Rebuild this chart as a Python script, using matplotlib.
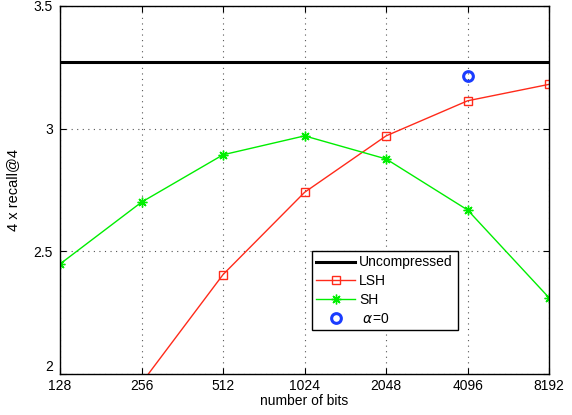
import numpy as np
import matplotlib
matplotlib.use("Agg")
import matplotlib.pyplot as plt

plt.rcParams['font.family'] = ['Liberation Sans', 'DejaVu Sans']

# data
bits = [128, 256, 512, 1024, 2048, 4096, 8192]
uncompressed = 3.272
lsh_bits = [256, 512, 1024, 2048, 4096, 8192]
lsh = [1.963, 2.405, 2.74, 2.97, 3.113, 3.18]
sh = [2.448, 2.70, 2.893, 2.97, 2.876, 2.668, 2.31]
alpha0_bits = [4096]
alpha0 = [3.215]

fig = plt.figure(figsize=(5.72, 4.15), dpi=100)
ax = fig.add_axes([0.105, 0.099, 0.855, 0.887])

ax.plot([bits[0], bits[-1]], [uncompressed, uncompressed], color='black', lw=2.2,
        label='Uncompressed')
ax.plot(lsh_bits, lsh, color='#ff2a1a', lw=1, marker='s', ms=6, mfc='none',
        mec='#ff2a1a', label='LSH')
ax.plot(bits, sh, color='#00ee00', lw=1, marker=(8, 2, 0), ms=7, mec='#00ee00',
        mew=1.0, label='SH')
ax.plot(alpha0_bits, alpha0, ls='none', marker='o', ms=7, mfc='none',
        mec='#1a3cff', mew=2.2, label=r' $\alpha$=0')

ax.set_xscale('log', base=2)
ax.set_xlim(128, 8192)
ax.set_ylim(2, 3.5)
ax.set_xticks(bits)
ax.set_xticklabels([str(b) for b in bits])
ax.minorticks_off()
ax.set_yticks([2, 2.5, 3, 3.5])
ax.set_yticklabels(['2', '2.5', '3', '3.5'])
ax.tick_params(direction='in', labelsize=10, length=4, top=True, right=True)
ax.tick_params(axis='y', pad=5)
# lift the bottom "2" so it clears the "128" label, as in the original
ax.get_yticklabels()[0].set_va('bottom')
ax.grid(True, ls=(0, (1, 4)), color='#555555', lw=0.8)
for s in ax.spines.values():
    s.set_linewidth(1.0)

ax.set_xlabel('number of bits', fontsize=10, labelpad=1)
ax.set_ylabel('4 x recall@4', fontsize=10.5, labelpad=10)

leg = ax.legend(loc='lower left', bbox_to_anchor=(0.501, 0.10, 0.327, 0.242),
                mode='expand', fontsize=10, fancybox=False, framealpha=1,
                edgecolor='black', borderpad=0.3, labelspacing=0.35,
                handlelength=2.8, handletextpad=0.3)
leg.get_frame().set_linewidth(1.0)

fig.savefig('out.png', dpi=100)
